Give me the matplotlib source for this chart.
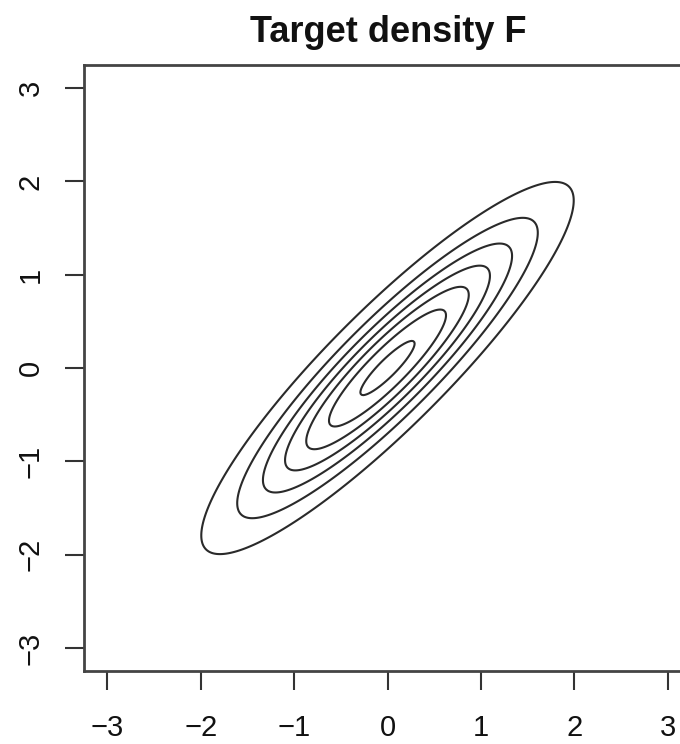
import numpy as np
import matplotlib
matplotlib.use("Agg")
from matplotlib import pyplot as plt

# Bivariate normal target, unit variances, correlation rho
mean = [0.0, 0.0]
sd = [1.0, 1.0]
rho = 0.9
levels = [0.05, 0.10, 0.15, 0.20, 0.25, 0.30, 0.35]
ticks = [-3, -2, -1, 0, 1, 2, 3]
title = "Target density F"

grid = np.linspace(-3.25, 3.25, 401)
X, Y = np.meshgrid(grid, grid)
zx = (X - mean[0]) / sd[0]
zy = (Y - mean[1]) / sd[1]
q = (zx ** 2 - 2 * rho * zx * zy + zy ** 2) / (1 - rho ** 2)
Z = np.exp(-q / 2) / (2 * np.pi * sd[0] * sd[1] * np.sqrt(1 - rho ** 2))

plt.rcParams["font.family"] = "Liberation Sans"

fig = plt.figure(figsize=(6.8, 7.44), dpi=100)
ax = fig.add_axes([84 / 680, 0.0977, 607 / 680, 0.8153])

ax.contour(X, Y, Z, levels=levels, colors="#2a2a2a", linewidths=1.5)

ax.set_xlim(-3.25, 3.25)
ax.set_ylim(-3.25, 3.25)
ax.set_xticks(ticks)
ax.set_yticks(ticks)
ax.set_xticklabels([str(t).replace("-", "\u2212") for t in ticks])
ax.set_yticklabels([str(t).replace("-", "\u2212") for t in ticks], rotation=90, va="center")
ax.tick_params(axis="both", direction="out", length=13.5, width=1.5, color="#333333",
               labelsize=21, labelcolor="#111111")
ax.tick_params(axis="x", pad=17)
ax.tick_params(axis="y", pad=15)
for s in ax.spines.values():
    s.set_linewidth(2)
    s.set_color("#444444")

fig.text(388 / 680, 1 - 32 / 744, title, ha="center", va="center",
         fontsize=26, fontweight="bold", color="#111111")

fig.savefig("out.png", dpi=100)
